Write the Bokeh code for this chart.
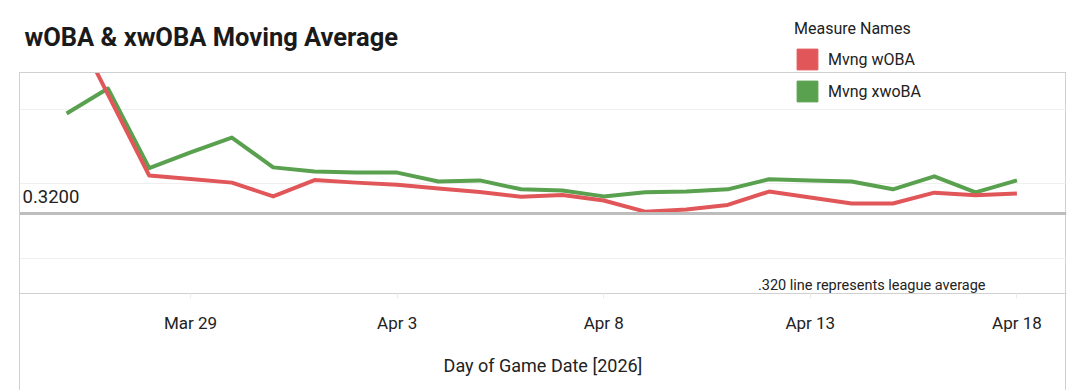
import pandas as pd
from bokeh.plotting import figure
from bokeh.models import (Span, Label, Legend, LegendItem, FixedTicker, Range1d,
                          ColumnDataSource, BoxAnnotation)
from bokeh.embed import file_html
from bokeh.resources import INLINE

# ---------------- data ----------------
dates = ["2026-03-26", "2026-03-27", "2026-03-28", "2026-03-29", "2026-03-30",
         "2026-03-31", "2026-04-01", "2026-04-02", "2026-04-03", "2026-04-04",
         "2026-04-05", "2026-04-06", "2026-04-07", "2026-04-08", "2026-04-09",
         "2026-04-10", "2026-04-11", "2026-04-12", "2026-04-13", "2026-04-14",
         "2026-04-15", "2026-04-16", "2026-04-17", "2026-04-18"]
mvng_woba = [0.860, 0.640, 0.422, 0.413, 0.403, 0.366, 0.410, 0.403, 0.397, 0.387,
             0.378, 0.365, 0.370, 0.355, 0.325, 0.331, 0.343, 0.379, 0.363, 0.347,
             0.347, 0.376, 0.369, 0.374]
mvng_xwoba = [0.589, 0.656, 0.442, 0.484, 0.524, 0.444, 0.433, 0.430, 0.430, 0.406,
              0.409, 0.385, 0.382, 0.366, 0.377, 0.379, 0.385, 0.412, 0.409, 0.406,
              0.385, 0.420, 0.377, 0.409]
tick_dates = ["2026-03-29", "2026-04-03", "2026-04-08", "2026-04-13", "2026-04-18"]
tick_labels = ["Mar 29", "Apr 3", "Apr 8", "Apr 13", "Apr 18"]
series_names = ["Mvng wOBA", "Mvng xwoBA"]
league_avg = 0.32
league_label = "0.3200"
grid_values = [0.2, 0.4, 0.6]

# ---------------- styling ----------------
FONT = "Roboto"
RED = "#e15759"
GREEN = "#59a14f"
TEXT = "#222222"
FRAME = "#d0d0d0"

d0 = pd.Timestamp(dates[0])
day_index = [(pd.Timestamp(d) - d0).days for d in dates]
tick_index = [(pd.Timestamp(d) - d0).days for d in tick_dates]

src = ColumnDataSource(dict(x=day_index, woba=mvng_woba, xwoba=mvng_xwoba))

# visible plot area spans y_start..y_clip (221 px); the frame extends 72 px higher
# so that the title and legend can sit above the clipped plot area.
PLOT_TOP_PX, PLOT_BOTTOM_PX = 72, 293
x_start, x_end = day_index[0] - 1.14, day_index[-1] + 1.2
y_start, y_clip = 0.105, 0.699
y_end = y_start + (y_clip - y_start) * PLOT_BOTTOM_PX / (PLOT_BOTTOM_PX - PLOT_TOP_PX)

W, H = 1068, 390
p = figure(width=W, height=H, output_backend="svg", toolbar_location=None,
           x_range=Range1d(x_start, x_end), y_range=Range1d(y_start, y_end),
           min_border_left=19, min_border_right=2, min_border_top=0,
           min_border_bottom=H - PLOT_BOTTOM_PX)
p.styles = {"background": (
    f"linear-gradient({FRAME},{FRAME}) 19px 72px / 1px 320px no-repeat, "
    f"linear-gradient({FRAME},{FRAME}) 1065px 72px / 1px 320px no-repeat")}
p.border_fill_color = None
p.background_fill_color = None
p.outline_line_color = None

# axes
p.yaxis.visible = False
p.ygrid.ticker = FixedTicker(ticks=grid_values)
p.ygrid.grid_line_color = "#efefef"
p.ygrid.grid_line_width = 1
p.xgrid.visible = False

xa = p.xaxis[0]
xa.ticker = FixedTicker(ticks=tick_index)
xa.major_label_overrides = {t: lab for t, lab in zip(tick_index, tick_labels)}
xa.minor_tick_line_color = None
xa.major_tick_line_color = "#ececec"
xa.major_tick_out = 5
xa.major_tick_in = 0
xa.axis_line_color = FRAME
xa.major_label_text_font = FONT
xa.major_label_text_font_size = "17px"
xa.major_label_text_color = TEXT
xa.major_label_standoff = 14
xa.axis_label = "Day of Game Date [2026]"
xa.axis_label_text_font = FONT
xa.axis_label_text_font_size = "18px"
xa.axis_label_text_font_style = "normal"
xa.axis_label_text_color = TEXT
xa.axis_label_standoff = 19

# league average line
p.add_layout(Span(location=league_avg, dimension="width", line_color="#bdbdbd",
                  line_width=3))
p.add_layout(Label(x=x_start, y=league_avg, x_offset=3, y_offset=17,
                   text=league_label, text_font=FONT, text_font_size="18.5px",
                   text_color=TEXT, text_baseline="alphabetic"))
p.add_layout(Label(x=x_end, y=y_start, x_offset=-81, y_offset=8,
                   text=".320 line represents league average", text_font=FONT,
                   text_font_size="14.5px", text_color=TEXT, text_align="right",
                   text_baseline="alphabetic"))

# lines
p.line("x", "xwoba", source=src, line_color=GREEN, line_width=4, line_join="round")
p.line("x", "woba", source=src, line_color=RED, line_width=4, line_join="round")

# white mask above the plot area (clips the lines at the plot's top edge)
p.add_layout(BoxAnnotation(bottom=y_clip, fill_color="white", fill_alpha=1,
                           line_color=None))
p.add_layout(Span(location=y_clip, dimension="width", line_color=FRAME,
                  line_width=1))

# title
p.add_layout(Label(x=x_start, y=y_end, x_offset=5, y_offset=-36,
                   text="wOBA & xwOBA Moving Average", text_font=FONT,
                   text_font_size="25.5px", text_font_style="bold",
                   text_color="#1a1a1a", text_baseline="alphabetic"))

# legend swatches: hidden zero-size quads on the series, only used for legend glyphs
sw_red = p.quad(left="x", right="x", top="woba", bottom="woba", source=src,
                fill_color=RED, line_color=RED, visible=False)
sw_green = p.quad(left="x", right="x", top="xwoba", bottom="xwoba", source=src,
                  fill_color=GREEN, line_color=GREEN, visible=False)
legend = Legend(items=[LegendItem(label=series_names[0], renderers=[sw_red]),
                       LegendItem(label=series_names[1], renderers=[sw_green])],
                location=(775, PLOT_BOTTOM_PX - 104), title="Measure Names")
legend.title_text_font = FONT
legend.title_text_font_size = "16px"
legend.title_text_font_style = "normal"
legend.title_text_color = TEXT
legend.title_standoff = 8
legend.label_text_font = FONT
legend.label_text_font_size = "16px"
legend.label_text_color = TEXT
legend.glyph_width = 26
legend.glyph_height = 26
legend.label_standoff = 8
legend.spacing = 6
legend.padding = 0
legend.margin = 0
legend.border_line_alpha = 0
legend.background_fill_alpha = 0
legend.click_policy = "none"
p.add_layout(legend)

open("out.html", "w").write(file_html(p, INLINE))
